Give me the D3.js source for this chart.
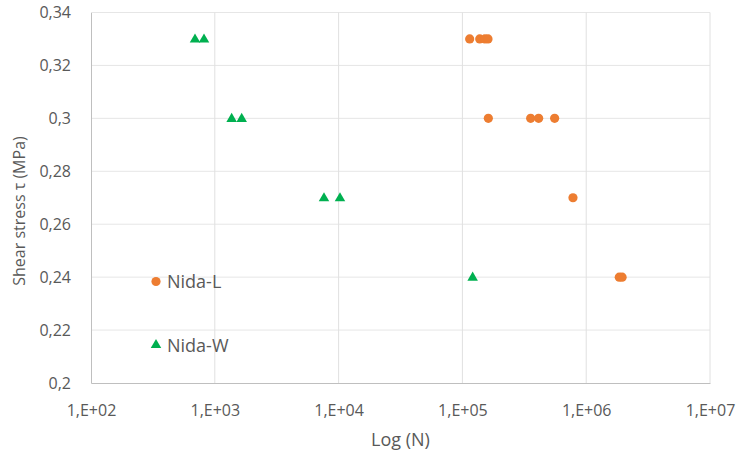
<!DOCTYPE html>
<html>
<head>
<meta charset="utf-8">
<script src="https://cdn.jsdelivr.net/npm/d3@7"></script>
<style>
  body { margin: 0; background: #fff; }
  text { font-family: "Open Sans", "Noto Sans", sans-serif; fill: #595959; }
</style>
</head>
<body>
<div id="chart"></div>
<script>
// Data (cycles N, shear stress MPa)
const nidaL_N = [114500, 138000, 152000, 161000, 162000, 356000, 413000, 556000, 782000, 1850000, 1950000];
const nidaL_tau = [0.33, 0.33, 0.33, 0.33, 0.30, 0.30, 0.30, 0.30, 0.27, 0.24, 0.24];
const nidaW_N = [692, 818, 1368, 1649, 7620, 10260, 121000];
const nidaW_tau = [0.33, 0.33, 0.30, 0.30, 0.27, 0.27, 0.24];
const xTicks = [1e2, 1e3, 1e4, 1e5, 1e6, 1e7];
const xTickLabels = ["1,E+02", "1,E+03", "1,E+04", "1,E+05", "1,E+06", "1,E+07"];
const yTicks = [0.2, 0.22, 0.24, 0.26, 0.28, 0.3, 0.32, 0.34];
const yTickLabels = ["0,2", "0,22", "0,24", "0,26", "0,28", "0,3", "0,32", "0,34"];

const W = 740, H = 453;
const margin = { top: 12.5, right: 30, bottom: 70, left: 91 };
const width = W - margin.left - margin.right;
const height = H - margin.top - margin.bottom;

const svg = d3.select("#chart").append("svg")
  .attr("width", W).attr("height", H);
const g = svg.append("g")
  .attr("transform", `translate(${margin.left},${margin.top})`);

const x = d3.scaleLog().domain([1e2, 1e7]).range([0, width]);
const y = d3.scaleLinear().domain([0.2, 0.34]).range([height, 0]);

// gridlines
g.append("g").selectAll("line").data(yTicks.slice(1)).join("line")
  .attr("x1", 0).attr("x2", width)
  .attr("y1", d => y(d)).attr("y2", d => y(d))
  .attr("stroke", "#e6e6e6").attr("stroke-width", 1);
g.append("g").selectAll("line").data(xTicks.slice(1)).join("line")
  .attr("x1", d => x(d)).attr("x2", d => x(d))
  .attr("y1", 0).attr("y2", height)
  .attr("stroke", "#e0e0e0").attr("stroke-width", 1);

// axes
const xAxis = d3.axisBottom(x).tickValues(xTicks)
  .tickFormat((d, i) => xTickLabels[i]).tickSize(0).tickPadding(22);
const gx = g.append("g").attr("transform", `translate(0,${height})`).call(xAxis);
gx.select(".domain").attr("stroke", "#bfbfbf");
gx.selectAll("text").style("font-size", "16px").style("font-family", null).attr("fill", "#595959");

const yAxis = d3.axisLeft(y).tickValues(yTicks)
  .tickFormat((d, i) => yTickLabels[i]).tickSize(0).tickPadding(20);
const gy = g.append("g").call(yAxis);
gy.select(".domain").attr("stroke", "#bfbfbf");
gy.selectAll("text").style("font-size", "16px").attr("fill", "#595959");
svg.selectAll(".tick text").attr("font-family", null);

// axis titles
svg.append("text")
  .attr("x", margin.left + width / 2).attr("y", 446)
  .attr("text-anchor", "middle").style("font-size", "18px")
  .text("Log (N)");
svg.append("text")
  .attr("transform", `translate(25,211) rotate(-90)`)
  .attr("text-anchor", "middle").style("font-size", "16px")
  .text("Shear stress τ (MPa)");

const orange = "#ED7D31", green = "#00B050";
const tri = d3.symbol().type(d3.symbolTriangle).size(48);

// Nida-W triangles
g.append("g").selectAll("path").data(nidaW_N).join("path")
  .attr("d", tri)
  .attr("transform", (d, i) => `translate(${x(d)},${y(nidaW_tau[i]) + 0.5})`)
  .attr("fill", green);

// Nida-L circles
g.append("g").selectAll("circle").data(nidaL_N).join("circle")
  .attr("cx", d => x(d)).attr("cy", (d, i) => y(nidaL_tau[i]))
  .attr("r", 4.6).attr("fill", orange);

// legend
const legend = svg.append("g");
legend.append("circle").attr("cx", 156).attr("cy", 281.5).attr("r", 4.6).attr("fill", orange);
legend.append("text").attr("x", 167).attr("y", 288)
  .style("font-size", "18px").text("Nida-L");
legend.append("path").attr("d", tri).attr("transform", "translate(156,345)").attr("fill", green);
legend.append("text").attr("x", 167).attr("y", 351.5)
  .style("font-size", "18px").text("Nida-W");
</script>
</body>
</html>
